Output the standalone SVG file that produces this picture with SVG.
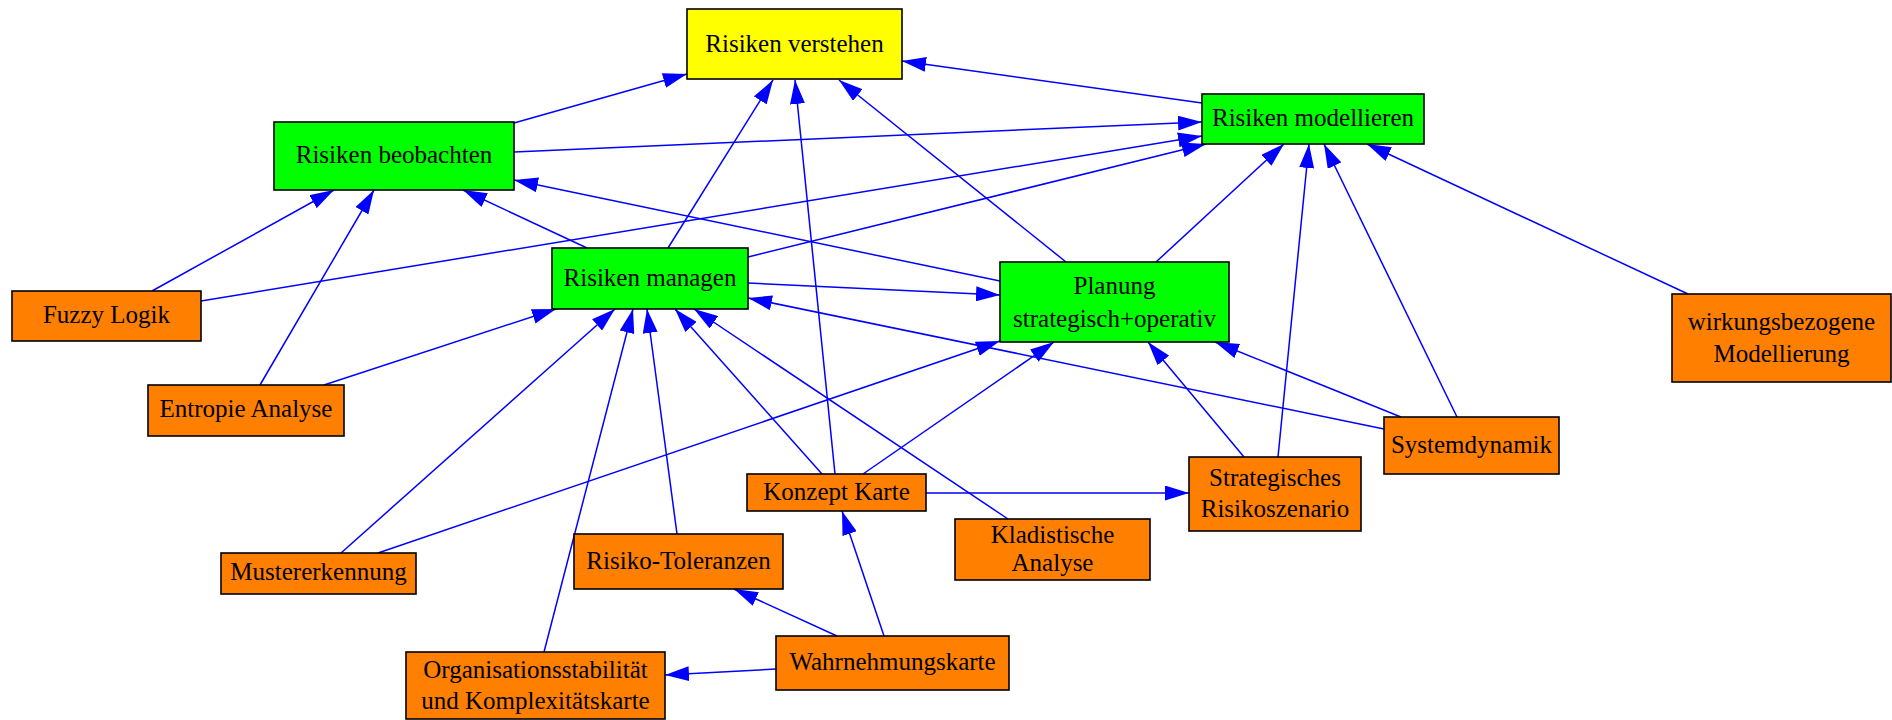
<svg xmlns="http://www.w3.org/2000/svg" width="1892" height="720" viewBox="0 0 1892 720">
  <style>
    .box { stroke: #000; stroke-width: 1.6; }
    .top { fill: #ffff00; }
    .core { fill: #00ff00; }
    .method { fill: #ff7f00; }
    .lbl { font-family: "Liberation Serif", "Times New Roman", serif; font-size: 25px; fill: #000; text-anchor: middle; }
    .edges path { fill: none; stroke: #0000ff; stroke-width: 1.5; marker-end: url(#arrow); }
  </style>
  <defs>
    <marker id="arrow" markerUnits="userSpaceOnUse" viewBox="0 0 24 15" markerWidth="24" markerHeight="15" refX="24" refY="7.5" orient="auto">
      <path d="M0,0 L24,7.5 L0,15 z" fill="#0000ff"/>
    </marker>
  </defs>
  <rect width="1892" height="720" fill="#fff"/>

  <g class="edges">
    <path d="M514,123 L687,74"/>
    <path d="M1202,103 L902,61"/>
    <path d="M514,152 L1202,122"/>
    <path d="M668,248 L773,80"/>
    <path d="M835,474 L795,80"/>
    <path d="M1066,262 L839,80"/>
    <path d="M1156,262 L1284,144"/>
    <path d="M587,248 L463,190"/>
    <path d="M1000,281 L514,180"/>
    <path d="M152,291 L334,190"/>
    <path d="M260,385 L374,190"/>
    <path d="M201,301 L1202,136"/>
    <path d="M748,257 L1206,144"/>
    <path d="M748,283 L1000,295"/>
    <path d="M1384,429 L748,298"/>
    <path d="M1401,417 L1215,342"/>
    <path d="M1457,417 L1324,144"/>
    <path d="M1278,457 L1309,144"/>
    <path d="M1244,457 L1148,342"/>
    <path d="M1688,294 L1367,144"/>
    <path d="M926,493 L1189,493"/>
    <path d="M863,474 L1054,342"/>
    <path d="M822,474 L675,309"/>
    <path d="M1008,519 L694,309"/>
    <path d="M677,534 L647,309"/>
    <path d="M544,652 L633,309"/>
    <path d="M341,553 L615,309"/>
    <path d="M378,553 L1000,341"/>
    <path d="M324,385 L556,309"/>
    <path d="M884,636 L842,511"/>
    <path d="M837,636 L734,589"/>
    <path d="M776,669 L665,675"/>
  </g>

  <g id="verstehen">
    <rect class="box top" x="687" y="9" width="215" height="70"/>
    <text class="lbl" x="794.5" y="51.5">Risiken verstehen</text>
  </g>
  <g id="beobachten">
    <rect class="box core" x="274" y="122" width="240" height="68"/>
    <text class="lbl" x="394" y="162.5">Risiken beobachten</text>
  </g>
  <g id="modellieren">
    <rect class="box core" x="1202" y="94" width="222" height="50"/>
    <text class="lbl" x="1313" y="126">Risiken modellieren</text>
  </g>
  <g id="managen">
    <rect class="box core" x="552" y="248" width="196" height="61"/>
    <text class="lbl" x="650" y="285.5">Risiken managen</text>
  </g>
  <g id="planung">
    <rect class="box core" x="1000" y="262" width="229" height="80"/>
    <text class="lbl" x="1114.5" y="294"><tspan x="1114.5">Planung</tspan><tspan x="1114.5" dy="33">strategisch+operativ</tspan></text>
  </g>
  <g id="wirkung">
    <rect class="box method" x="1672" y="294" width="219" height="88"/>
    <text class="lbl" x="1781.5" y="329.5"><tspan x="1781.5">wirkungsbezogene</tspan><tspan x="1781.5" dy="32">Modellierung</tspan></text>
  </g>
  <g id="fuzzy">
    <rect class="box method" x="12" y="291" width="189" height="50"/>
    <text class="lbl" x="106.5" y="322.5">Fuzzy Logik</text>
  </g>
  <g id="entropie">
    <rect class="box method" x="148" y="385" width="196" height="51"/>
    <text class="lbl" x="246" y="417">Entropie Analyse</text>
  </g>
  <g id="muster">
    <rect class="box method" x="221" y="553" width="195" height="41"/>
    <text class="lbl" x="318.5" y="580">Mustererkennung</text>
  </g>
  <g id="toleranzen">
    <rect class="box method" x="574" y="534" width="209" height="55"/>
    <text class="lbl" x="678.5" y="568.5">Risiko-Toleranzen</text>
  </g>
  <g id="organisation">
    <rect class="box method" x="406" y="652" width="259" height="67"/>
    <text class="lbl" x="535.5" y="677.5"><tspan x="535.5">Organisationsstabilität</tspan><tspan x="535.5" dy="31.5">und Komplexitätskarte</tspan></text>
  </g>
  <g id="konzept">
    <rect class="box method" x="747" y="474" width="179" height="37"/>
    <text class="lbl" x="836.5" y="499.5">Konzept Karte</text>
  </g>
  <g id="kladistik">
    <rect class="box method" x="955" y="519" width="195" height="61"/>
    <text class="lbl" x="1052.5" y="542.5"><tspan x="1052.5">Kladistische</tspan><tspan x="1052.5" dy="28.5">Analyse</tspan></text>
  </g>
  <g id="wahrnehmung">
    <rect class="box method" x="776" y="636" width="233" height="54"/>
    <text class="lbl" x="892.5" y="670">Wahrnehmungskarte</text>
  </g>
  <g id="szenario">
    <rect class="box method" x="1189" y="457" width="172" height="74"/>
    <text class="lbl" x="1275" y="486"><tspan x="1275">Strategisches</tspan><tspan x="1275" dy="30.5">Risikoszenario</tspan></text>
  </g>
  <g id="systemdynamik">
    <rect class="box method" x="1384" y="417" width="175" height="57"/>
    <text class="lbl" x="1471.5" y="452.5">Systemdynamik</text>
  </g>
</svg>
